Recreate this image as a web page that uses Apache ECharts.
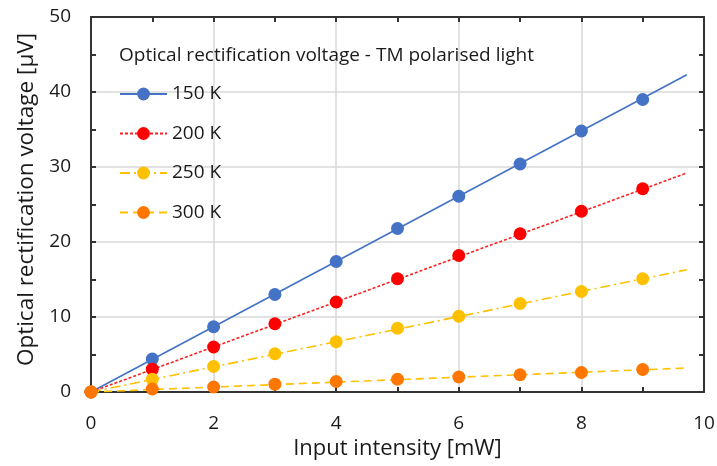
<!DOCTYPE html>
<html>
<head>
<meta charset="utf-8">
<script src="https://cdn.jsdelivr.net/npm/echarts@6/dist/echarts.min.js"></script>
<style>
html,body{margin:0;padding:0;background:#fff;}
#chart{width:717px;height:466px;}
</style>
</head>
<body>
<div id="chart"></div>
<script>
// ---- data ----
var intensity = [0, 1, 2, 3, 4, 5, 6, 7, 8, 9];
var v150 = [0, 4.4, 8.7, 13.0, 17.4, 21.8, 26.1, 30.4, 34.8, 39.0];
var v200 = [0, 3.05, 6.0, 9.1, 12.0, 15.1, 18.2, 21.1, 24.1, 27.1];
var v250 = [0, 1.7, 3.4, 5.1, 6.7, 8.5, 10.1, 11.8, 13.4, 15.1];
var v300 = [0, 0.4, 0.67, 1.05, 1.4, 1.7, 2.0, 2.3, 2.6, 3.0];
// linear trendlines (start and end of each fitted line)
var trendX = [0, 9.72];
var t150 = [0, 42.3];
var t200 = [0, 29.2];
var t250 = [0, 16.3];
var t300 = [0, 3.2];
var seriesNames = ['150 K', '200 K', '250 K', '300 K'];
var chartTitle = 'Optical rectification voltage - TM polarised light';
var xName = 'Input intensity [mW]';
var yName = 'Optical rectification voltage [µV]';

var FONT = 'Open Sans';
var markerColors = ['#4472C4', '#FF0000', '#FFC000', '#FF7700'];
var lineColors = ['#4472C4', '#FF2020', '#FFC000', '#FFC000'];
var lineTypes = ['solid', [3, 2], [10, 4, 2, 4], [8, 5]];
var values = [v150, v200, v250, v300];
var trends = [t150, t200, t250, t300];

function pairs(xs, ys) { return xs.map(function (x, i) { return [x, ys[i]]; }); }

var series = [];
// trendlines (carry legend entries)
seriesNames.forEach(function (n, i) {
  series.push({
    name: n, type: 'line', symbol: 'circle', symbolSize: 13,
    data: pairs(trendX, trends[i]).map(function (p) { return { value: p, symbol: 'none' }; }),
    itemStyle: { color: markerColors[i] },
    lineStyle: { color: lineColors[i], width: 1.6, type: lineTypes[i] },
    silent: true, animation: false, z: 2
  });
});
// measured points
seriesNames.forEach(function (n, i) {
  series.push({
    name: n + ' data', type: 'scatter', symbol: 'circle', symbolSize: 13,
    data: pairs(intensity, values[i]),
    itemStyle: { color: markerColors[i], opacity: 1 },
    animation: false, z: 3 + i
  });
});

var axisLine = { show: true, onZero: false, lineStyle: { color: '#333', width: 2 } };
var tick = { show: true, inside: true, length: 5, lineStyle: { color: '#333', width: 2 } };
var minor = { show: true, splitNumber: 2, length: 5, lineStyle: { color: '#333', width: 2 } };
var labelStyle = { fontFamily: FONT, fontSize: 19, color: '#1a1a1a' };

var option = {
  animation: false,
  backgroundColor: '#fff',
  title: {
    text: chartTitle, left: 119, top: 46, padding: 0,
    textStyle: { fontFamily: FONT, fontSize: 19, fontWeight: 'normal', color: '#1a1a1a' }
  },
  legend: {
    data: seriesNames, orient: 'vertical', left: 119, top: 83, padding: 0,
    itemWidth: 47, itemHeight: 16, itemGap: 17.5,
    textStyle: { fontFamily: FONT, fontSize: 19, color: '#1a1a1a', lineHeight: 22 }
  },
  grid: { left: 91, right: 13, top: 17, bottom: 74, containLabel: false, outerBoundsMode: 'none' },
  xAxis: [{
    type: 'value', min: 0, max: 10, interval: 2,
    name: xName, nameLocation: 'middle', nameGap: 46,
    nameTextStyle: { fontFamily: FONT, fontSize: 22, color: '#1a1a1a' },
    axisLine: axisLine, axisTick: tick, minorTick: minor,
    axisLabel: Object.assign({ margin: 22 }, labelStyle),
    splitLine: { show: true, lineStyle: { color: '#d9d9d9', width: 1.5 } }
  }, {
    type: 'value', position: 'top', min: 0, max: 10, interval: 2,
    axisLine: axisLine, axisTick: tick, minorTick: minor,
    axisLabel: { show: false }, splitLine: { show: false }
  }],
  yAxis: [{
    type: 'value', min: 0, max: 50, interval: 10,
    name: yName, nameLocation: 'middle', nameGap: 50,
    nameTextStyle: { fontFamily: FONT, fontSize: 22.5, color: '#1a1a1a', padding: [0, 0, 0, 10] },
    axisLine: axisLine, axisTick: tick, minorTick: minor,
    axisLabel: Object.assign({ margin: 20 }, labelStyle),
    splitLine: { show: true, lineStyle: { color: '#d9d9d9', width: 1.5 } }
  }, {
    type: 'value', position: 'right', min: 0, max: 50, interval: 10,
    axisLine: axisLine, axisTick: tick, minorTick: minor,
    axisLabel: { show: false }, splitLine: { show: false }
  }],
  series: series
};

var chart = echarts.init(document.getElementById('chart'), null, { renderer: 'canvas' });
chart.setOption(option);
</script>
</body>
</html>
